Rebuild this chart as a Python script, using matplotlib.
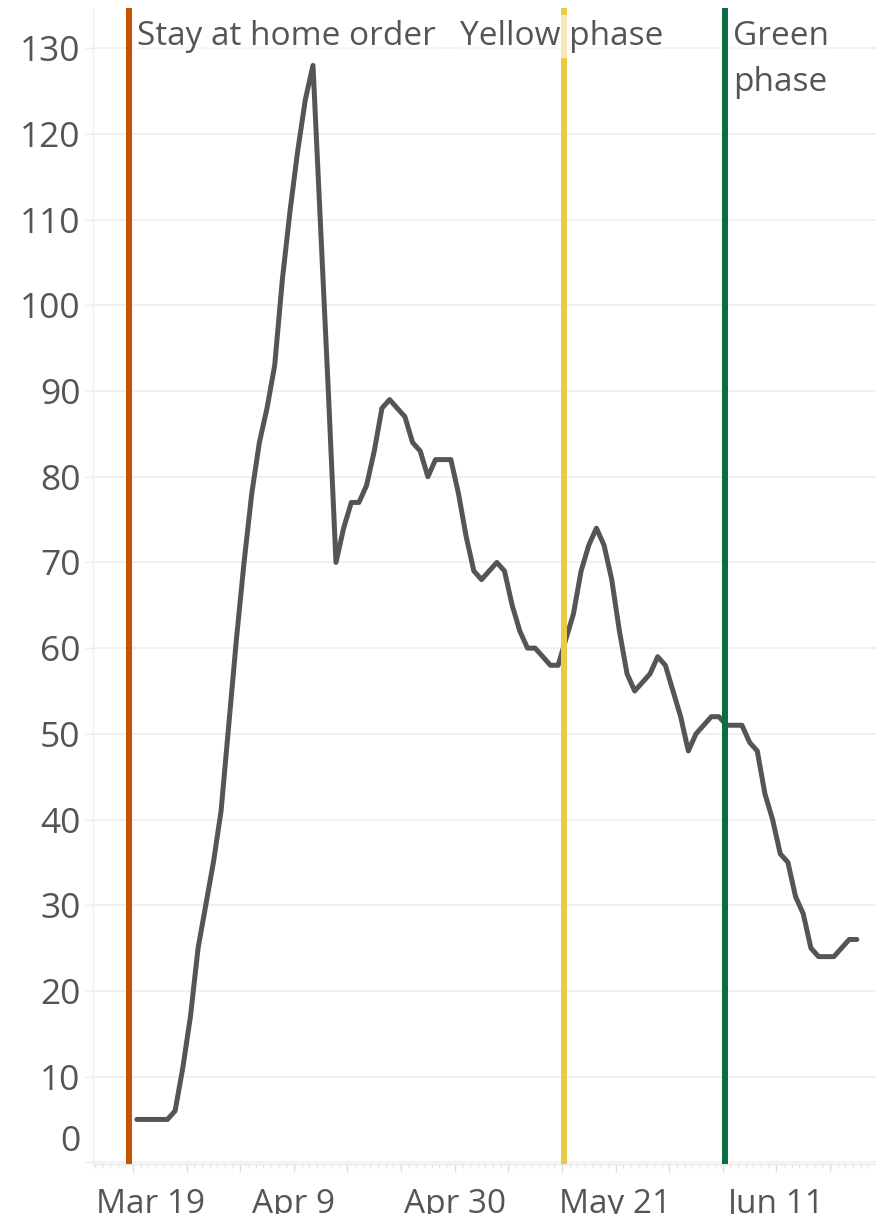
import matplotlib
matplotlib.use("Agg")
import matplotlib.pyplot as plt
import matplotlib.dates as mdates
import matplotlib.transforms as mtransforms
import pandas as pd

# daily values, Mar 19 .. Jun 21
start = "2020-03-19"
values = [5, 5, 5, 5, 5, 6, 11, 17, 25, 30, 35, 41, 51, 61, 70, 78, 84, 88, 93, 103,
          111, 118, 124, 128, 109, 90, 70, 74, 77, 77, 79, 83, 88, 89, 88, 87, 84, 83, 80, 82,
          82, 82, 78, 73, 69, 68, 69, 70, 69, 65, 62, 60, 60, 59, 58, 58, 61, 64, 69, 72,
          74, 72, 68, 62, 57, 55, 56, 57, 59, 58, 55, 52, 48, 50, 51, 52, 52, 51, 51, 51,
          49, 48, 43, 40, 36, 35, 31, 29, 25, 24, 24, 24, 25, 26, 26]

event_labels = ["Stay at home order", "Yellow phase", "Green\nphase"]
event_dates = ["2020-03-18 12:00", "2020-05-14 06:00", "2020-06-04 06:00"]
event_colors = ["#c85200", "#edc948", "#0b6e40"]

tick_labels = ["Mar 19", "Apr 9", "Apr 30", "May 21", "Jun 11"]
tick_dates = ["2020-03-19", "2020-04-09", "2020-04-30", "2020-05-21", "2020-06-11"]

dates = pd.date_range(start, periods=len(values), freq="D") + pd.Timedelta(hours=12)

plt.rcParams["font.family"] = ["Open Sans", "DejaVu Sans"]
txt_color = "#555555"

fig = plt.figure(figsize=(8.76, 12.14), dpi=100)
ax = fig.add_axes([93 / 876, 50 / 1214, 783 / 876, 1156 / 1214])

ax.plot(dates, values, color="#555555", lw=3.6, solid_joinstyle="round",
        solid_capstyle="round", zorder=3)

for d, c in zip(event_dates, event_colors):
    ax.axvline(pd.Timestamp(d), color=c, lw=4.3, zorder=4)

box = dict(boxstyle="square,pad=0.15", fc="white", ec="none", alpha=0.6)

# labels for the reference lines
ax.annotate(event_labels[0], xy=(pd.Timestamp(event_dates[0]), 1),
            xycoords=("data", "axes fraction"), xytext=(5.8, -26.6),
            textcoords="offset points", ha="left", va="baseline",
            fontsize=24, color=txt_color, zorder=5, bbox=box)
ax.annotate(event_labels[1], xy=(pd.Timestamp(event_dates[1]), 1),
            xycoords=("data", "axes fraction"), xytext=(-1.8, -26.6),
            textcoords="offset points", ha="center", va="baseline",
            fontsize=24, color=txt_color, zorder=5, bbox=box)
ax.annotate(event_labels[2], xy=(pd.Timestamp(event_dates[2]), 1),
            xycoords=("data", "axes fraction"), xytext=(5.8, -8.4),
            textcoords="offset points", ha="left", va="top", linespacing=1.54,
            fontsize=24, color=txt_color, zorder=5, bbox=box)

# x axis: weekly ticks, labels every third week, daily minor ticks
x0 = pd.Timestamp(start)
week_ticks = list(pd.date_range(start, "2020-06-18", freq="7D"))
lab = ["" for _ in week_ticks]
for d, l in zip(tick_dates, tick_labels):
    lab[week_ticks.index(pd.Timestamp(d))] = l
ax.set_xticks(week_ticks)
ax.set_xticklabels(lab)
ax.xaxis.set_minor_locator(mdates.DayLocator())

ax.set_xlim(x0 - pd.Timedelta(days=5.22), x0 + pd.Timedelta(days=97))
ax.set_ylim(-0.2, 134.7)

ax.set_yticks(range(0, 140, 10))
ax.yaxis.grid(True, color="#efefef", lw=1.3)
ax.set_axisbelow(True)

ax.tick_params(axis="x", which="major", length=6, width=1, color="#dddddd", pad=11,
               labelsize=24, labelcolor=txt_color)
ax.tick_params(axis="x", which="minor", length=3, width=1, color="#e6e6e6")
ax.tick_params(axis="y", length=6, width=1, color="#eeeeee", pad=3,
               labelsize=25.5, labelcolor=txt_color)

for s in ["top", "right"]:
    ax.spines[s].set_visible(False)
ax.spines["left"].set_color("#efefef")
ax.spines["bottom"].set_color("#e6e6e6")
ax.spines["left"].set_linewidth(1)
ax.spines["bottom"].set_linewidth(1)

fig.canvas.draw()
# Tableau nudges the edge labels inward
ylab = ax.get_yticklabels()[0]
ylab.set_transform(ylab.get_transform() + mtransforms.ScaledTranslation(0, 24 / 100, fig.dpi_scale_trans))
xlab = ax.get_xticklabels()[0]
xlab.set_transform(xlab.get_transform() + mtransforms.ScaledTranslation(18 / 100, 0, fig.dpi_scale_trans))

fig.savefig("out.png", dpi=100, facecolor="white")
